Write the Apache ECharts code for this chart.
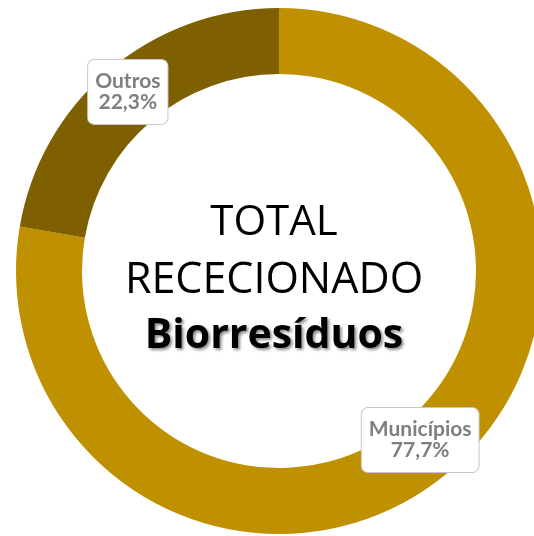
<!DOCTYPE html>
<html>
<head>
<meta charset="utf-8">
<script src="https://cdn.jsdelivr.net/npm/echarts@6/dist/echarts.min.js"></script>
<style>
  html, body { margin: 0; padding: 0; background: #ffffff; }
  #chart { width: 534px; height: 536px; }
</style>
</head>
<body>
<div id="chart"></div>
<script>
// Origem dos biorresíduos rececionados (percentagem do total)
const categories = ['Municípios', 'Outros'];
const shares = [77.7, 22.3];
const sliceColors = ['#BF9000', '#7F6000'];
const centerLines = ['TOTAL', 'RECECIONADO', 'Biorresíduos'];

const chart = echarts.init(document.getElementById('chart'), null, { renderer: 'canvas' });

const labelFont = 'Lato, "Open Sans", sans-serif';
const titleFont = '"Open Sans", Lato, sans-serif';

// small nudges so each value box sits where it reads best on the ring
const labelNudge = [[-9, -9], [-1, -1]];

chart.setOption({
  backgroundColor: '#ffffff',
  animation: false,
  graphic: [
    {
      type: 'text', x: 274, y: 223,
      style: {
        text: centerLines[0], fontFamily: titleFont, fontSize: 42,
        fill: '#000000', align: 'center', verticalAlign: 'middle'
      }
    },
    {
      type: 'text', x: 274, y: 281,
      style: {
        text: centerLines[1], fontFamily: titleFont, fontSize: 43,
        fill: '#000000', align: 'center', verticalAlign: 'middle'
      }
    },
    {
      type: 'text', x: 274, y: 336,
      style: {
        text: centerLines[2], fontFamily: titleFont, fontSize: 41, fontWeight: 'bold',
        fill: '#000000', align: 'center', verticalAlign: 'middle',
        textShadowColor: 'rgba(0,0,0,0.45)', textShadowBlur: 3,
        textShadowOffsetX: 2, textShadowOffsetY: 2
      }
    }
  ],
  series: [{
    type: 'pie',
    center: [279, 271],
    radius: [197, 263],
    startAngle: 90,
    clockwise: true,
    silent: true,
    itemStyle: { borderWidth: 0 },
    label: {
      show: true,
      position: 'inside',
      formatter: p => p.name + '\n' + p.percent.toFixed(1).replace('.', ',') + '%',
      fontFamily: labelFont,
      fontSize: 21,
      fontWeight: 'bold',
      lineHeight: 21,
      color: '#7F7F7F',
      backgroundColor: '#ffffff',
      borderColor: '#C8C8C8',
      borderWidth: 1,
      borderRadius: 6,
      padding: [11, 7],
      align: 'center'
    },
    labelLayout: p => ({ dx: labelNudge[p.dataIndex][0], dy: labelNudge[p.dataIndex][1] }),
    labelLine: { show: false },
    data: categories.map((name, i) => ({
      name: name,
      value: shares[i],
      itemStyle: { color: sliceColors[i] }
    }))
  }]
});
</script>
</body>
</html>
